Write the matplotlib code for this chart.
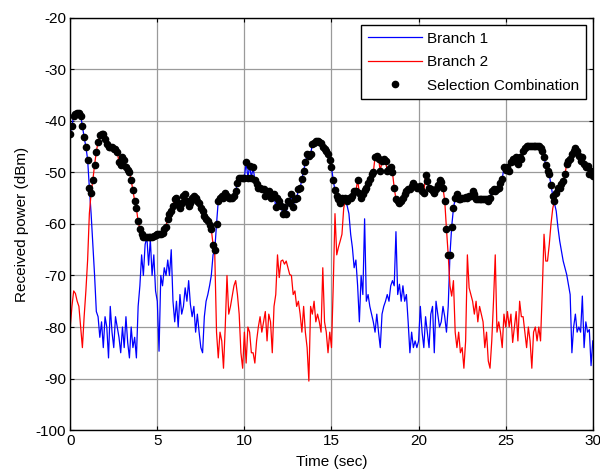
import numpy as np
import matplotlib
matplotlib.use("Agg")
from matplotlib import pyplot as plt

time_s = np.round(np.arange(0, 301) * 0.1, 1)

branch1 = [
    -42.5, -41, -39, -38.7, -38.5, -38.4, -39, -41, -43.2, -45,
    -47.5, -53, -58, -64, -70, -77, -78, -82, -79, -84,
    -78, -80, -86, -76, -81, -84, -78, -80, -82, -85,
    -80, -84, -78, -83, -86, -80, -84, -82, -86, -76,
    -72, -66, -70, -64, -62.5, -68, -63, -70, -66, -73,
    -75, -84.7, -70, -72, -68.5, -70, -67, -70, -65, -75,
    -79, -75, -80, -73.7, -77.5, -76, -72.4, -75, -71, -75.6,
    -78, -76, -81, -77.5, -81, -84, -85, -78, -75, -73.7,
    -72, -70, -66, -65, -60, -55.5, -55, -54.6, -55, -54,
    -54.5, -55, -55, -55, -54.5, -53.6, -52, -51, -51, -51,
    -51, -48, -51, -48.7, -51, -49, -51.5, -52.3, -53, -53,
    -53.3, -53.3, -54.6, -54, -53.6, -55, -54.5, -54.2, -56.8, -55,
    -55.5, -56.5, -58, -56.8, -58, -55.5, -56, -54.2, -56.8, -55.2,
    -55, -53.3, -53, -51.3, -49.7, -48, -46.5, -46.8, -46.5, -44.5,
    -44.2, -43.9, -43.9, -44, -44.2, -45, -45.5, -45.8, -46.5, -47.5,
    -49, -51.5, -53.5, -54.6, -55.2, -55.9, -55, -55.2, -55.5, -56.5,
    -58, -62, -64.6, -68.5, -67, -72, -79, -70, -73.7, -59,
    -75, -73.7, -76, -77.5, -79, -81, -77.5, -81, -84, -77.5,
    -76, -75, -73.7, -75, -72, -71, -72, -61.5, -73.7, -71.7,
    -75, -72, -75, -73.7, -79, -85, -81, -84, -82.7, -84,
    -82.7, -76, -81, -84, -78, -81, -84, -77.5, -76, -85,
    -75, -77.5, -80, -79, -76, -78, -81, -76, -66, -60.5,
    -57, -55, -54.2, -55.2, -55.2, -55, -55, -54.8, -55, -54.6,
    -54.6, -53.6, -54.2, -55.2, -55.2, -55.2, -55.2, -55.2, -55.2, -55.2,
    -55.5, -55, -53.6, -53.3, -53.6, -53.3, -53, -52, -51.3, -49,
    -49.5, -49, -49.7, -48, -47.4, -47.8, -47, -48.4, -47, -47.4,
    -45.8, -45.2, -44.8, -44.8, -44.8, -44.8, -44.8, -44.8, -44.8, -44.9,
    -45.2, -45.8, -47, -48.6, -49.7, -50.4, -52.5, -54.5, -56, -57.5,
    -60.7, -63.3, -65.2, -67.2, -68.5, -69.8, -71.7, -73.7, -85, -80,
    -77.5, -81, -80, -81, -74, -84, -79, -81, -80.5, -87.5,
    -82.7,
]

branch2 = [
    -80, -76, -73, -73.5, -75, -76, -80, -84, -78, -73,
    -67, -58, -54, -51.5, -48.5, -46, -44, -42.8, -42.5, -42.5,
    -43.5, -44.5, -45, -45, -45, -45.5, -45.5, -46, -48, -48.5,
    -47, -47.5, -49, -49.5, -50, -51.5, -53.5, -55.5, -57, -59.5,
    -61, -62, -62.5, -62.5, -63, -62.5, -62.5, -62.5, -62.3, -62.2,
    -62, -62, -62, -61.8, -61, -60.5, -59, -58, -57.5, -56.5,
    -55.2, -55, -56, -57, -56, -54.5, -54.2, -55.5, -56.5, -56,
    -55, -54.6, -55, -55.5, -56, -57, -57.5, -58.5, -59, -59.5,
    -60.2, -61, -64, -66, -81, -86, -81, -82.7, -88, -80,
    -70, -77.5, -76, -74, -72, -71, -73.7, -77.5, -85, -88,
    -81, -87, -80, -81, -85, -85, -87, -82.7, -80, -78,
    -81, -79, -77, -82.7, -77.5, -79, -85, -76, -73.7, -66,
    -70.4, -67.2, -67, -67.8, -67.2, -68.5, -69.8, -70, -73.7, -73,
    -76, -75, -77.5, -81, -76, -81, -84, -90.5, -76, -77.5,
    -75, -79, -77.5, -79, -81, -68.5, -79, -81, -85, -81,
    -84, -72, -58, -66, -64.5, -63.3, -62, -57, -55, -55.5,
    -55, -55, -54.6, -53.6, -53.6, -51.5, -54, -55, -54.2, -53.5,
    -53, -52, -51.3, -50.4, -50, -47, -46.8, -47.4, -49.7, -47.8,
    -47.4, -47.8, -49.7, -49.4, -49, -50, -53, -55.2, -55.5, -56,
    -55.5, -55, -54.2, -53.6, -53.3, -53.3, -52.6, -52, -52.6, -53,
    -53, -52.7, -53.6, -54, -50.5, -51.6, -53, -53.3, -53.6, -54,
    -53.3, -52.5, -51.5, -51.8, -53, -55.5, -61, -66, -72, -74,
    -71, -81, -84, -81, -85, -84, -88, -82.7, -66, -72.4,
    -73.7, -75, -77.5, -75, -79, -76, -77.5, -79, -84, -81,
    -86.6, -88, -82.7, -75, -66, -81, -79, -81, -84, -77.5,
    -80, -77, -80, -77.5, -83, -80, -77, -82.7, -75, -78,
    -78, -81, -84, -80, -82.7, -88, -81, -80, -82.7, -80,
    -82.7, -73, -62, -67.2, -67.2, -64, -60, -57, -55.5, -54,
    -53, -53, -52.3, -51.6, -50.4, -48.4, -47.8, -47.4, -46.5, -45.8,
    -45.2, -45.8, -46.8, -47.8, -47, -48.4, -49, -48.7, -50.4, -49.7,
    -50.7,
]

x_ticks = [0, 5, 10, 15, 20, 25, 30]
y_ticks = [-100, -90, -80, -70, -60, -50, -40, -30, -20]

plt.rcParams['font.family'] = ['Liberation Sans', 'DejaVu Sans']
plt.rcParams['axes.unicode_minus'] = False

b1 = np.array(branch1)
b2 = np.array(branch2)
selected = np.maximum(b1, b2)  # selection combining: strongest branch

fig = plt.figure(figsize=(6, 4.7), dpi=100)
ax = fig.add_axes([0.117, 0.085, 0.871, 0.877])

ax.plot(time_s, b1, color='#0000ff', lw=0.9, label='Branch 1')
ax.plot(time_s, b2, color='#ff0000', lw=0.9, label='Branch 2')
ax.plot(time_s, selected, 'k.', ms=9, label='Selection Combination')

ax.set_xlim(0, 30)
ax.set_ylim(-100, -20)
ax.set_xticks(x_ticks)
ax.set_yticks(y_ticks)
ax.grid(True, color='#9a9a9a', lw=0.9)
ax.set_axisbelow(True)
ax.tick_params(direction='in', top=True, right=True, labelsize=11, length=3, pad=3)
for s in ax.spines.values():
    s.set_linewidth(1.0)

ax.set_xlabel('Time (sec)', fontsize=11, labelpad=5)
ax.set_ylabel('Received power (dBm)', fontsize=11, labelpad=5)

leg = ax.legend(loc='upper right', fontsize=11, fancybox=False, framealpha=1,
                edgecolor='black', handlelength=3.5, borderaxespad=0.45,
                labelspacing=0.62, borderpad=0.45, handletextpad=0.35)
leg.get_frame().set_linewidth(1.0)

fig.savefig('out.png', dpi=100)
